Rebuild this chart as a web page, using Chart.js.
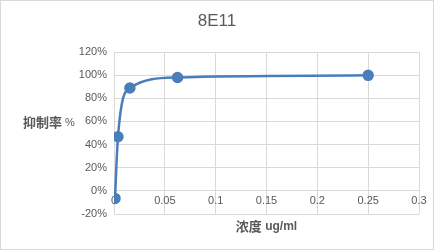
<!DOCTYPE html>
<html><head><meta charset="utf-8">
<script src="https://cdn.jsdelivr.net/npm/chart.js@4"></script>
<style>
html,body{margin:0;padding:0;background:#fff;}
#wrap{position:absolute;left:0;top:0;width:432px;height:248px;border:1px solid #d9d9d9;}
canvas{display:block;}
</style></head><body>
<div id="wrap"><canvas id="c" width="432" height="248"></canvas></div>
<script>
const chartTitle = '8E11';
const xTitleCJK = '浓度';
const xTitleUnit = ' ug/ml';
const yTitleCJK = '抑制率';
const yTitleUnit = ' %';
const concentrations = [0.0009765625, 0.00390625, 0.015625, 0.0625, 0.25];
const inhibition = [-6.5, 46.8, 88.9, 98.0, 99.8];
const xTicks = [0, 0.05, 0.1, 0.15, 0.2, 0.25, 0.3];
const yTicks = [-20, 0, 20, 40, 60, 80, 100, 120];

const gray = '#595959';
const font = "'Liberation Sans', Arial, sans-serif";
const cjkFont = "'Noto Sans CJK SC', sans-serif";

function drawPair(ctx, a, b, x, y, fa, fb) {
  ctx.font = fa; const wa = ctx.measureText(a).width;
  ctx.font = fb; const wb = ctx.measureText(b).width;
  ctx.textAlign = 'left';
  ctx.font = fa; ctx.fillText(a, x, y);
  ctx.font = fb; ctx.fillText(b, x + wa, y + 1);
  return wa + wb;
}

const titlesPlugin = {
  id: 'titles',
  afterDraw(chart) {
    const ctx = chart.ctx, a = chart.chartArea;
    ctx.save();
    ctx.fillStyle = gray;
    ctx.textBaseline = 'middle';
    ctx.font = "17px " + font;
    ctx.textAlign = 'center';
    ctx.fillText(chartTitle, 216, 20);
    // x title, centered at plot center
    ctx.font = "bold 13px " + cjkFont; const w1 = ctx.measureText(xTitleCJK).width;
    ctx.font = "bold 12px " + font; const w2 = ctx.measureText(xTitleUnit).width;
    const cx = (a.left + a.right) / 2;
    drawPair(ctx, xTitleCJK, xTitleUnit, cx - (w1 + w2) / 2, 225, "bold 13px " + cjkFont, "bold 12px " + font);
    drawPair(ctx, yTitleCJK, yTitleUnit, 22, chart.scales.y.getPixelForValue(60) + 1, "bold 13px " + cjkFont, "11px " + font);
    ctx.restore();
  }
};

new Chart(document.getElementById('c'), {
  type: 'line',
  data: {
    datasets: [{
      data: concentrations.map((x, i) => ({x: x, y: inhibition[i]})),
      borderColor: '#4a7ebb',
      backgroundColor: '#4a7ebb',
      borderWidth: 2.5,
      pointRadius: 4.5,
      pointHoverRadius: 4.5,
      tension: 0.4,
      cubicInterpolationMode: 'monotone',
      fill: false
    }]
  },
  options: {
    responsive: false,
    animation: false,
    layout: {padding: {top: 51, right: 14, bottom: 35, left: 0}},
    plugins: {legend: {display: false}, tooltip: {enabled: false}},
    scales: {
      x: {
        type: 'linear',
        min: 0, max: 0.3,
        position: {y: 0},
        afterBuildTicks: s => { s.ticks = xTicks.map(v => ({value: v})); },
        ticks: {
          color: gray, font: {size: 11, family: font}, padding: 4,
          callback: v => String(v)
        },
        grid: {color: '#d9d9d9', drawTicks: false, lineWidth: 1},
        border: {display: false}
      },
      y: {
        min: -20, max: 120,
        afterBuildTicks: s => { s.ticks = yTicks.map(v => ({value: v})); },
        afterFit: s => { s.width = 113; },
        ticks: {
          color: gray, font: {size: 11, family: font}, padding: 7,
          callback: v => v + '%'
        },
        grid: {color: '#d9d9d9', drawTicks: false, lineWidth: 1},
        border: {display: false}
      }
    }
  },
  plugins: [titlesPlugin]
});
</script>
</body></html>
